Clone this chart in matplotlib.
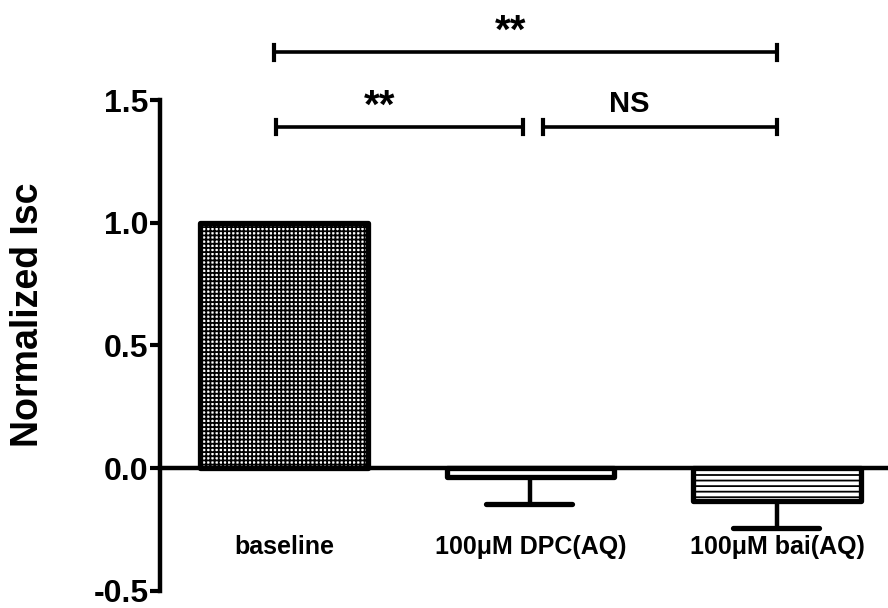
import matplotlib
matplotlib.use("Agg")
import matplotlib.pyplot as plt

plt.rcParams['font.family'] = ['Liberation Sans', 'DejaVu Sans']
plt.rcParams['font.weight'] = 'bold'
plt.rcParams['hatch.linewidth'] = 1.3

# data
categories = ["baseline", "100\u03bcM DPC(AQ)", "100\u03bcM bai(AQ)"]
values = [1.0, -0.035, -0.135]
sem = [0.0, 0.11, 0.11]
hatches = ["++++", "", "---"]

# significance brackets: (left, right, height, label, label x)
brackets = [(-0.04, 2, 1.695, "**", 0.92),
            (-0.03, 0.97, 1.39, "**", 0.39),
            (1.05, 2, 1.39, "NS", 1.40)]

fig = plt.figure(figsize=(8.88, 6.08), dpi=100)
ax = fig.add_axes([0.180, 0.028, 0.820, 0.8075])

x = range(len(categories))
bars = ax.bar(x, values, width=0.68, color="white", edgecolor="black",
              linewidth=3.8, hatch=hatches, zorder=2)
for b in bars:
    b.set_joinstyle("round")

# one-sided (downward) error bars
for i, (v, e) in enumerate(zip(values, sem)):
    if e > 0:
        ax.plot([i, i], [v, v - e], color="black", lw=3.2, zorder=3,
                solid_capstyle="butt")
        ax.plot([i - 0.18, i + 0.17], [v - e, v - e], color="black", lw=3.8,
                zorder=3, solid_capstyle="round")

# brackets above the plot
for a, b, h, lab, lx in brackets:
    ax.plot([a, b], [h, h], color="black", lw=2.6, clip_on=False)
    for xe in (a, b):
        ax.plot([xe, xe], [h - 0.03, h + 0.03], color="black", lw=3,
                clip_on=False)
    if lab == "**":
        ax.text(lx, h + 0.005, lab, ha="center", va="bottom",
                fontsize=29, fontweight="bold", clip_on=False)
    else:
        ax.text(lx, h + 0.035, lab, ha="center", va="bottom",
                fontsize=21, fontweight="bold", clip_on=False)

# category labels under the axis
for i, c in enumerate(categories):
    ax.text(i, -0.27, c, ha="center", va="top", fontsize=18,
            fontweight="bold")

ax.set_xlim(-0.503, 2.45)
ax.set_ylim(-0.5, 1.5)
ax.set_yticks([-0.5, 0.0, 0.5, 1.0, 1.5])
ax.set_yticklabels(["-0.5", "0.0", "0.5", "1.0", "1.5"])
ax.set_xticks([])
ax.tick_params(axis="y", length=7, width=3, labelsize=23, pad=1)
for t in ax.get_yticklabels():
    t.set_fontweight("bold")

ax.spines["top"].set_visible(False)
ax.spines["right"].set_visible(False)
ax.spines["bottom"].set_position(("data", 0))
ax.spines["left"].set_linewidth(3.2)
ax.spines["bottom"].set_linewidth(3.2)
ax.spines["bottom"].set_zorder(4)

fig.text(28 / 888, 1 - 315 / 608, "Normalized Isc", rotation=90,
         ha="center", va="center", fontsize=27, fontweight="bold")

fig.savefig("out.png", dpi=100)
